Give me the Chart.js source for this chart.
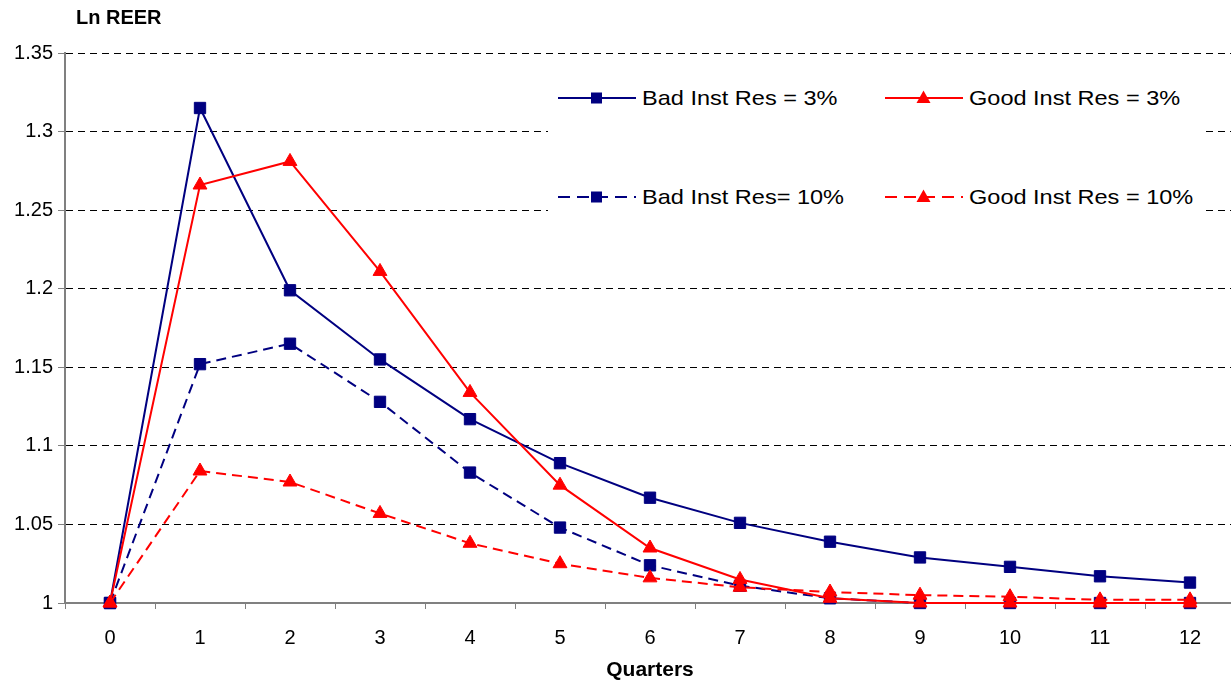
<!DOCTYPE html>
<html>
<head>
<meta charset="utf-8">
<script src="https://cdn.jsdelivr.net/npm/chart.js@4.4.1/dist/chart.umd.min.js"></script>
<style>
  html, body { margin: 0; padding: 0; background: #fff; overflow: hidden; }
  #wrap { position: relative; width: 1231px; height: 685px; overflow: hidden; }
  #c { position: absolute; left: 0; top: 0; }
  #legendBox { position: absolute; left: 548px; top: 62px; width: 654px; height: 162px; background: #fff; }
  .item { position: absolute; height: 28px; display: flex; align-items: center; font-family: "Liberation Sans", Arial, sans-serif; font-size: 21px; color: #000; white-space: nowrap; }
  .item svg { margin-right: 6px; }
  .item span { display: inline-block; transform: scaleX(1.12); transform-origin: left center; }
</style>
</head>
<body>
<div id="wrap">
  <canvas id="c" width="1244" height="685"></canvas>
  <div id="legendBox"></div>
</div>
<script>
const quarters = ['0','1','2','3','4','5','6','7','8','9','10','11','12'];
const bad3   = [1.000, 1.315, 1.199, 1.155, 1.117, 1.089, 1.067, 1.051, 1.039, 1.029, 1.023, 1.017, 1.013];
const good3  = [1.000, 1.266, 1.281, 1.211, 1.134, 1.075, 1.035, 1.015, 1.003, 1.000, 1.000, 1.000, 1.000];
const bad10  = [1.000, 1.152, 1.165, 1.128, 1.083, 1.048, 1.024, 1.011, 1.003, 1.000, 1.000, 1.000, 1.000];
const good10 = [1.000, 1.084, 1.077, 1.057, 1.038, 1.025, 1.016, 1.010, 1.007, 1.005, 1.004, 1.002, 1.002];
const seriesNames = ['Bad Inst Res = 3%', 'Good Inst Res = 3%', 'Bad Inst Res= 10%', 'Good Inst Res = 10%'];
const yTitle = 'Ln REER';
const xTitle = 'Quarters';

const NAVY = '#000080', RED = '#FF0000';

function ds(label, data, color, dashed, style, order) {
  return {
    label, data, order,
    borderColor: color, backgroundColor: color,
    borderWidth: 2, borderDash: dashed ? [10, 6] : [],
    pointStyle: style, pointRadius: 8, pointHoverRadius: 8,
    pointBorderWidth: 1, pointBackgroundColor: color, pointBorderColor: color,
    tension: 0, fill: false, clip: false
  };
}

const titlePlugin = {
  id: 'cornerTitle',
  afterDraw(chart) {
    const ctx = chart.ctx;
    ctx.save();
    ctx.font = 'bold 20px "Liberation Sans", Arial, sans-serif';
    ctx.fillStyle = '#000';
    ctx.textAlign = 'left';
    ctx.textBaseline = 'middle';
    ctx.fillText(yTitle, 76, 18);
    ctx.restore();
  }
};

const chart = new Chart(document.getElementById('c'), {
  type: 'line',
  data: {
    labels: quarters,
    datasets: [
      ds(seriesNames[0], bad3, NAVY, false, 'rect', 3),
      ds(seriesNames[1], good3, RED, false, 'triangle', 1),
      ds(seriesNames[2], bad10, NAVY, true, 'rect', 2),
      ds(seriesNames[3], good10, RED, true, 'triangle', 0)
    ]
  },
  options: {
    responsive: false,
    animation: false,
    devicePixelRatio: 1,
    layout: { padding: { top: 53, right: 0, bottom: 0, left: 0 } },
    plugins: { legend: { display: false }, tooltip: { enabled: false }, title: { display: false } },
    scales: {
      x: {
        type: 'category',
        offset: true,
        grid: { offset: true, drawOnChartArea: false, drawTicks: true, tickLength: 6, tickColor: '#808080', tickWidth: 1 },
        border: { display: true, color: '#808080', width: 2 },
        ticks: { color: '#000', font: { family: '"Liberation Sans", Arial, sans-serif', size: 20 }, padding: 17, maxRotation: 0, autoSkip: false },
        title: { display: true, text: xTitle, color: '#000', font: { family: '"Liberation Sans", Arial, sans-serif', size: 21, weight: 'bold' }, padding: { top: 2, bottom: 2 } },
        afterFit(scale) { scale.height = 82; }
      },
      y: {
        min: 1, max: 1.35,
        grid: {
          color: (c) => (c.tick && Math.abs(c.tick.value - 1) < 1e-9) ? 'rgba(0,0,0,0)' : '#000',
          lineWidth: 1, drawTicks: true, tickLength: 7, tickColor: '#808080', tickWidth: 1, tickBorderDash: []
        },
        border: { display: true, color: '#808080', width: 2, dash: [7, 5] },
        ticks: {
          stepSize: 0.05, color: '#000', padding: 5,
          font: { family: '"Liberation Sans", Arial, sans-serif', size: 20 },
          callback: (v) => String(parseFloat(Number(v).toFixed(2)))
        },
        afterFit(scale) { scale.width = 65; }
      }
    }
  },
  plugins: [titlePlugin]
});

// HTML legend built from the datasets
const legendPos = [
  { left: 558, top: 98 }, { left: 885, top: 98 },
  { left: 558, top: 197 }, { left: 885, top: 197 }
];
const wrap = document.getElementById('wrap');
chart.data.datasets.forEach((d, i) => {
  const dashed = d.borderDash && d.borderDash.length;
  const color = d.borderColor;
  const marker = d.pointStyle === 'rect'
    ? `<rect x="33" y="4.5" width="11" height="11" fill="${color}"/>`
    : `<polygon points="38.5,2.5 45.5,15 31.5,15" fill="${color}"/>`;
  const svg = `<svg width="78" height="20" viewBox="0 0 78 20"><line x1="0" y1="10" x2="78" y2="10" stroke="${color}" stroke-width="2" ${dashed ? 'stroke-dasharray="12,7"' : ''}/>${marker}</svg>`;
  const el = document.createElement('div');
  el.className = 'item';
  el.style.left = legendPos[i].left + 'px';
  el.style.top = (legendPos[i].top - 14) + 'px';
  el.innerHTML = svg + '<span></span>';
  el.querySelector('span').textContent = d.label;
  wrap.appendChild(el);
});
</script>
</body>
</html>
